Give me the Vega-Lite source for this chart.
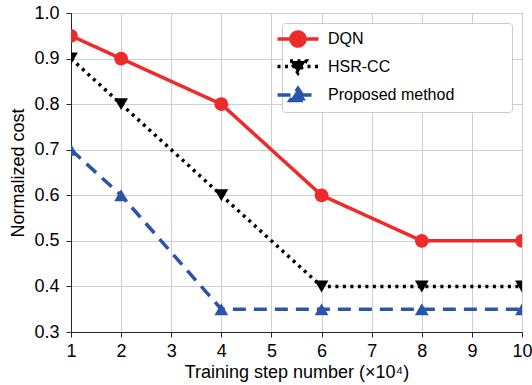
{
  "$schema": "https://vega.github.io/schema/vega-lite/v6.json",
  "width": 451,
  "height": 319,
  "autosize": {"type": "none"},
  "padding": {"left": 71, "top": 13, "right": 10, "bottom": 53},
  "background": "white",
  "config": {
    "view": {"stroke": "#262626", "strokeWidth": 1},
    "font": "Liberation Sans",
    "axis": {
      "labelFont": "Liberation Sans",
      "titleFont": "Liberation Sans",
      "labelFontSize": 18,
      "titleFontSize": 18,
      "titleFontWeight": "normal",
      "labelColor": "#000000",
      "titleColor": "#000000",
      "domainColor": "#262626",
      "tickColor": "#262626",
      "tickSize": 5,
      "gridColor": "#cfcfcf",
      "gridWidth": 1
    }
  },
  "data": {
    "values": [
      {"series": "DQN", "step": 1, "cost": 0.95},
      {"series": "DQN", "step": 2, "cost": 0.9},
      {"series": "DQN", "step": 4, "cost": 0.8},
      {"series": "DQN", "step": 6, "cost": 0.6},
      {"series": "DQN", "step": 8, "cost": 0.5},
      {"series": "DQN", "step": 10, "cost": 0.5},
      {"series": "HSR-CC", "step": 1, "cost": 0.9},
      {"series": "HSR-CC", "step": 2, "cost": 0.8},
      {"series": "HSR-CC", "step": 4, "cost": 0.6},
      {"series": "HSR-CC", "step": 6, "cost": 0.4},
      {"series": "HSR-CC", "step": 8, "cost": 0.4},
      {"series": "HSR-CC", "step": 10, "cost": 0.4},
      {"series": "Proposed method", "step": 1, "cost": 0.7},
      {"series": "Proposed method", "step": 2, "cost": 0.6},
      {"series": "Proposed method", "step": 4, "cost": 0.35},
      {"series": "Proposed method", "step": 6, "cost": 0.35},
      {"series": "Proposed method", "step": 8, "cost": 0.35},
      {"series": "Proposed method", "step": 10, "cost": 0.35}
    ]
  },
  "encoding": {
    "x": {
      "field": "step", "type": "quantitative",
      "scale": {"domain": [1, 10], "nice": false, "zero": false},
      "axis": {
        "values": [1, 2, 3, 4, 5, 6, 7, 8, 9, 10],
        "format": "d",
        "title": "Training step number (×10⁴)",
        "labelPadding": 5,
        "titlePadding": 3,
        "labelFlush": false
      }
    },
    "y": {
      "field": "cost", "type": "quantitative",
      "scale": {"domain": [0.3, 1.0], "nice": false, "zero": false},
      "axis": {
        "values": [0.3, 0.4, 0.5, 0.6, 0.7, 0.8, 0.9, 1.0],
        "format": ".1f",
        "title": "Normalized cost",
        "labelPadding": 7,
        "titlePadding": 6,
        "labelFlush": false
      }
    },
    "color": {
      "field": "series", "type": "nominal",
      "scale": {
        "domain": ["DQN", "HSR-CC", "Proposed method"],
        "range": ["#ee2a2a", "#000000", "#2a55aa"]
      },
      "legend": {
        "title": null,
        "orient": "top-right",
        "offset": 10,
        "padding": 4,
        "rowPadding": 0.5,
        "symbolSize": 400,
        "symbolStrokeWidth": 3.5,
        "labelOffset": 18,
        "labelLimit": 400,
        "labelFont": "Liberation Sans",
        "labelFontSize": 16,
        "labelColor": "#000000",
        "strokeColor": "#cccccc",
        "fillColor": "white",
        "cornerRadius": 3,
        "encode": {
          "symbols": {
            "update": {
              "shape": {"signal": "datum.value === 'DQN' ? 'M-2.05,0H2.05M-0.7,0A0.7,0.7 0 1,0 0.7,0A0.7,0.7 0 1,0 -0.7,0Z' : datum.value === 'HSR-CC' ? 'M-2.05,0H2.05M-0.8,-0.55L0.8,-0.55L0,0.65Z' : 'M-2.05,0H2.05M-0.8,0.55L0.8,0.55L0,-0.65Z'"},
              "fill": {"scale": "color", "field": "value"},
              "stroke": {"scale": "color", "field": "value"},
              "strokeWidth": {"value": 3.5},
              "strokeDash": {"signal": "datum.value === 'HSR-CC' ? [3, 4.5] : datum.value === 'DQN' ? [1, 0] : [13, 8]"},
              "opacity": {"value": 1},
              "fillOpacity": {"value": 1}
            }
          },
          "labels": {
            "update": {
              "text": {"signal": "datum.label + '\u00a0\u00a0\u00a0\u00a0\u00a0\u00a0\u00a0\u00a0\u00a0\u00a0\u00a0\u00a0\u200b'"}
            }
          }
        }
      }
    }
  },
  "layer": [
    {
      "mark": {"type": "line", "strokeWidth": 3.5, "clip": true},
      "encoding": {
        "strokeDash": {
          "field": "series", "type": "nominal",
          "scale": {"range": [[1, 0], [3, 4.5], [13, 8]]},
          "legend": null
        }
      }
    },
    {
      "mark": {"type": "point", "filled": true, "opacity": 1, "size": 190, "clip": true},
      "encoding": {
        "shape": {
          "field": "series", "type": "nominal",
          "scale": {"range": ["circle", "triangle-down", "triangle-up"]},
          "legend": null
        }
      }
    }
  ]
}
